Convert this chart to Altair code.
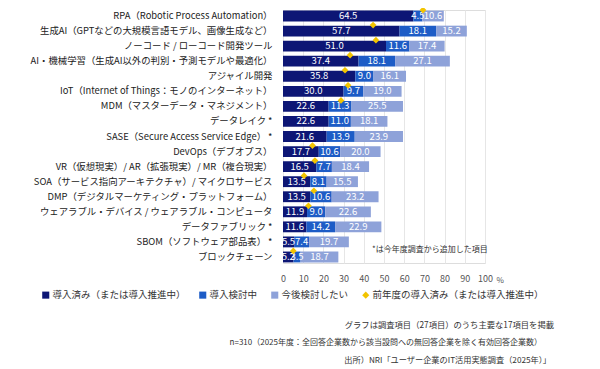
import altair as alt
import pandas as pd

items = [
    "RPA（Robotic Process Automation）",
    "生成AI（GPTなどの大規模言語モデル、画像生成など）",
    "ノーコード / ローコード開発ツール",
    "AI・機械学習（生成AI以外の判別・予測モデルや最適化）",
    "アジャイル開発",
    "IoT（Internet of Things：モノのインターネット）",
    "MDM（マスターデータ・マネジメント）",
    "データレイク *",
    "SASE（Secure Access Service Edge） *",
    "DevOps（デブオプス）",
    "VR（仮想現実）/ AR（拡張現実）/ MR（複合現実）",
    "SOA（サービス指向アーキテクチャ）/ マイクロサービス",
    "DMP（デジタルマーケティング・プラットフォーム）",
    "ウェアラブル・デバイス / ウェアラブル・コンピュータ",
    "データファブリック *",
    "SBOM（ソフトウェア部品表） *",
    "ブロックチェーン",
]
done = [64.5, 57.7, 51.0, 37.4, 35.8, 30.0, 22.6, 22.6, 21.6, 17.7, 16.5, 13.5, 13.5, 11.9, 11.6, 5.5, 5.2]
considering = [4.5, 18.1, 11.6, 18.1, 9.0, 9.7, 11.3, 11.0, 13.9, 10.6, 7.7, 8.1, 10.6, 9.0, 14.2, 7.4, 3.5]
future = [10.6, 15.2, 17.4, 27.1, 16.1, 19.0, 25.5, 18.1, 23.9, 20.0, 18.4, 15.5, 23.2, 22.6, 22.9, 19.7, 18.7]
prev = [69.3, 44.6, 46.0, 33.2, 30.7, 32.2, 28.7, None, None, 14.6, 15.8, 10.4, 15.3, 12.6, None, None, 5.1]

series = ["導入済み（または導入推進中）", "導入検討中", "今後検討したい", "前年度の導入済み（または導入推進中）"]
colors = ["#0d1675", "#1d5cc6", "#8ea2d9", "#f2c400"]
shapes = ["square", "square", "square", "diamond"]
x_ticks = [0, 10, 20, 30, 40, 50, 60, 70, 80, 90, 100]

notes = [
    "*は今年度調査から追加した項目",
    "グラフは調査項目（27項目）のうち主要な17項目を掲載",
    "n=310（2025年度：全回答企業数から該当設問への無回答企業を除く有効回答企業数）",
    "出所）NRI「ユーザー企業のIT活用実態調査（2025年）」",
]

rows = []
for i, it in enumerate(items):
    for k, vals in enumerate([done, considering, future]):
        rows.append({"item": it, "series": series[k], "value": vals[i], "order": k})
df = pd.DataFrame(rows)

prev_df = pd.DataFrame(
    [{"item": it, "prev": p, "series": series[3]} for it, p in zip(items, prev) if p is not None]
)

FONT = "Noto Sans CJK JP"

legend = alt.Legend(
    title=None, orient="none", direction="horizontal", legendX=-242, legendY=280,
    labelFontSize=9.5, labelColor="#333", symbolSize=50, symbolStrokeWidth=0,
    columnPadding=12, labelOffset=2, labelFont=FONT, labelLimit=400,
)

y_axis = alt.Axis(domain=False, ticks=False, tickSize=0, labelPadding=11, labelFontSize=9.4,
                  labelColor="#222", labelLimit=400, labelFont=FONT)
y_scale = alt.Scale(paddingInner=0.28, paddingOuter=0.04)

x_axis = alt.Axis(values=x_ticks, grid=True, gridColor="#e6e6e6", domain=False,
                  ticks=False, tickSize=0, labelPadding=11, labelFontSize=9, labelColor="#555",
                  labelOverlap=False, labelFlush=False,
                  title="%", titleFontSize=8, titleFontWeight="normal", titleColor="#555",
                  titleX=213, titleY=17, titleAlign="left", titleBaseline="middle",
                  labelFont=FONT, titleFont=FONT)
x_scale = alt.Scale(domain=[0, 100])

bars = alt.Chart(df).mark_bar().encode(
    y=alt.Y("item:N", sort=items, title=None, scale=y_scale, axis=y_axis),
    x=alt.X("value:Q", stack="zero", scale=x_scale, axis=x_axis),
    color=alt.Color("series:N", scale=alt.Scale(domain=series, range=colors), legend=legend),
    order=alt.Order("order:Q"),
)

labels = alt.Chart(df).transform_stack(
    stack="value", groupby=["item"], as_=["x0", "x1"], sort=[alt.SortField("order", "ascending")]
).transform_calculate(mid="(datum.x0 + datum.x1) / 2").mark_text(
    color="white", fontSize=9.5, font=FONT
).encode(
    y=alt.Y("item:N", sort=items, title=None, scale=y_scale, axis=y_axis),
    x=alt.X("mid:Q", scale=x_scale, axis=x_axis),
    text=alt.Text("value:Q", format=".1f"),
)

diamonds = alt.Chart(prev_df).mark_point(filled=True, size=45, yOffset=-6, opacity=1).encode(
    y=alt.Y("item:N", sort=items, title=None, scale=y_scale, axis=y_axis),
    x=alt.X("prev:Q", scale=x_scale, axis=x_axis),
    color=alt.Color("series:N", scale=alt.Scale(domain=series, range=colors), legend=legend),
    shape=alt.Shape("series:N", scale=alt.Scale(domain=series, range=shapes), legend=legend),
)

def note(text, x, y, align, size=8):
    return alt.Chart(pd.DataFrame({"t": [text]})).mark_text(
        align=align, baseline="middle", fontSize=size, color="#333", font=FONT
    ).encode(x=alt.value(x), y=alt.value(y), text="t:N")

n1 = note(notes[0], 89, 240, "left")
n2 = note(notes[1], 271, 316, "right", 8.3)
n3 = note(notes[2], 259, 333, "right")
n4 = note(notes[3], 268, 351, "right", 8.2)

chart = alt.layer(bars, labels, diamonds, n1, n2, n3, n4).properties(
    width=202, height=253,
    autosize=alt.AutoSizeParams(type="none"),
    padding={"left": 275, "top": 2, "right": 100, "bottom": 104},
).configure_view(stroke=None).configure(font=FONT)

chart.save("out.html", embed_options={"renderer": "svg", "actions": False})
